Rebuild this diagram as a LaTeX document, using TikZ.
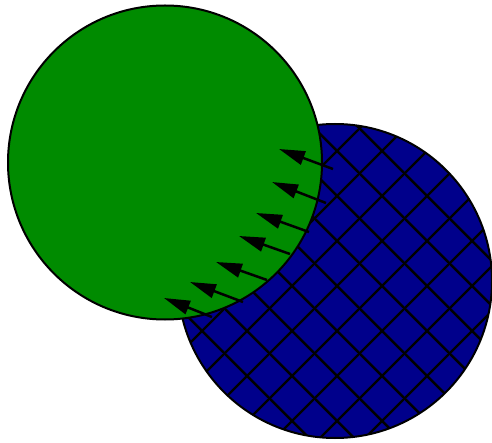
\documentclass[tikz,border=0pt]{standalone}
\usepackage{xcolor}
\usepackage{tikz}
\usetikzlibrary{arrows.meta, patterns.meta}

\definecolor{darkgreen}{RGB}{0,139,0}
\definecolor{darkblue}{RGB}{0,0,139}

\tikzdeclarepattern{
  name=diamondgrid,
  type=uncolored,
  bounding box={(0,0) and (45pt,45pt)},
  tile size={(45pt,45pt)},
  code={
    \draw[line width=2.5pt] (-1pt,-1pt) -- (46pt,46pt);
    \draw[line width=2.5pt] (-1pt,46pt) -- (46pt,-1pt);
  }
}

\begin{document}
\begin{tikzpicture}[x=1pt, y=1pt,
    disc/.style={draw=black, line width=2pt},
    flux/.style={-{Triangle[length=26pt, width=14pt]}, line width=2.5pt}]
    \useasboundingbox (0,0) rectangle (492,442);
    % Centres of the two discs
    \coordinate (lower) at (335,161);
    \coordinate (upper) at (165,279.5);

    % Hatched blue disc underneath
    \fill[darkblue] (lower) circle (157);
    \fill[pattern=diamondgrid, pattern color=black] (lower) circle (157);
    \draw[disc] (lower) circle (157);

    % Green disc on top
    \draw[disc, fill=darkgreen] (upper) circle (157);

    % Arrows crossing the rim
    \foreach \tx/\ty/\hx/\hy in {333/273/279/293, 326/239/272/260,
        309/210/256/229, 290/188/239/206, 267/162/216/180,
        243/140/190/160, 212/125/164/144}
        \draw[flux] (\tx,\ty) -- (\hx,\hy);
\end{tikzpicture}
\end{document}
